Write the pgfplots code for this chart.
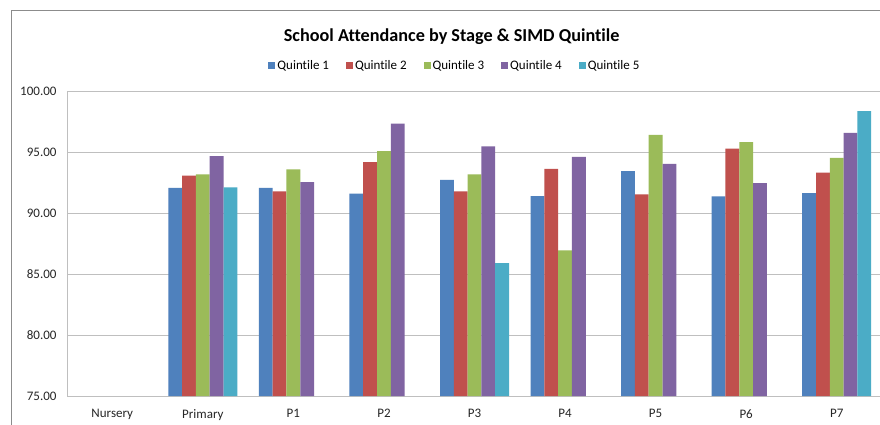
\documentclass[border=0pt]{standalone}
\usepackage{fontspec}
\setmainfont{Carlito}[Ligatures={NoCommon}]
\usepackage{pgfplots}
\pgfplotsset{compat=1.18}
\definecolor{q1}{HTML}{4F81BD}
\definecolor{q2}{HTML}{C0504D}
\definecolor{q3}{HTML}{9BBB59}
\definecolor{q4}{HTML}{8064A2}
\definecolor{q5}{HTML}{4BACC6}
\definecolor{gridc}{HTML}{BFBFBF}
\definecolor{borderc}{HTML}{8C8C8C}
\begin{document}
\begin{tikzpicture}[x=1pt,y=1pt]
\useasboundingbox (0,0) rectangle (880,424);
\clip (0,0) rectangle (880,424);
\fill[white] (0,0) rectangle (880,424);
\draw[borderc, line width=1pt] (11,-10) rectangle (930,413);
\begin{axis}[
  at={(67pt,28pt)}, anchor=south west,
  width=815pt, height=305pt, scale only axis,
  xmin=-0.5, xmax=8.5, ymin=75, ymax=100,
  ytick={75,80,...,100},
  xtick={0,...,8},
  xticklabels={Nursery,Primary,P1,P2,P3,P4,P5,P6,P7},
  major tick length=0pt,
  ymajorgrids, grid style={gridc, line width=0.8pt},
  axis line style={gridc, line width=0.8pt},
  ybar=0pt, bar width=13.8pt,
  /pgf/number format/assume math mode=true,
  /pgf/number format/fixed,
  /pgf/number format/fixed zerofill,
  /pgf/number format/precision=2,
  tick label style={font=\fontsize{13}{15}\selectfont, text=black!85},
  yticklabel style={xshift=-7pt},
  xticklabel style={yshift=-10pt},
  title={School Attendance by Stage \& SIMD Quintile},
  title style={at={(0.472,1.160)}, anchor=center, font=\bfseries\fontsize{18.2}{22}\selectfont},
  legend style={at={(0.476,1.082)}, anchor=center, draw=none, fill=none,
    font=\fontsize{13}{15}\selectfont, inner sep=0pt,
    /tikz/every even column/.append style={column sep=15pt}},
  legend columns=-1,
]
\addplot[fill=q1, draw=none, legend image code/.code={\fill[q1] (0pt,-3.5pt) rectangle (7pt,3.5pt);}] coordinates {
  (1,92.07) (2,92.07) (3,91.58) (4,92.72) (5,91.38) (6,93.43) (7,91.36) (8,91.63)};
\addplot[fill=q2, draw=none, legend image code/.code={\fill[q2] (0pt,-3.5pt) rectangle (7pt,3.5pt);}] coordinates {
  (1,93.06) (2,91.77) (3,94.17) (4,91.77) (5,93.62) (6,91.52) (7,95.28) (8,93.32)};
\addplot[fill=q3, draw=none, legend image code/.code={\fill[q3] (0pt,-3.5pt) rectangle (7pt,3.5pt);}] coordinates {
  (1,93.17) (2,93.57) (3,95.07) (4,93.16) (5,86.94) (6,96.40) (7,95.80) (8,94.52)};
\addplot[fill=q4, draw=none, legend image code/.code={\fill[q4] (0pt,-3.5pt) rectangle (7pt,3.5pt);}] coordinates {
  (1,94.67) (2,92.53) (3,97.33) (4,95.47) (5,94.60) (6,94.03) (7,92.45) (8,96.56)};
\addplot[fill=q5, draw=none, legend image code/.code={\fill[q5] (0pt,-3.5pt) rectangle (7pt,3.5pt);}] coordinates {
  (1,92.10) (4,85.90) (8,98.36)};
\legend{Quintile 1,Quintile 2,Quintile 3,Quintile 4,Quintile 5}
\end{axis}
\end{tikzpicture}
\end{document}
